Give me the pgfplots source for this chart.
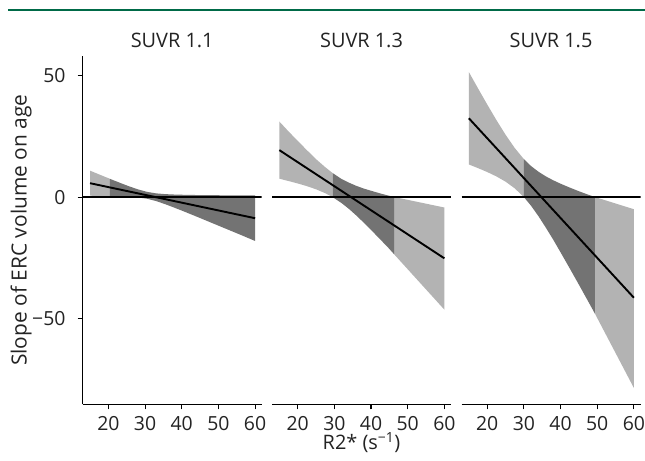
\documentclass[border=0pt]{standalone}
\usepackage{fontspec}
\setmainfont{Open Sans}
\usepackage{pgfplots}
\pgfplotsset{compat=1.18}
\definecolor{lightband}{RGB}{179,179,179}
\definecolor{darkband}{RGB}{115,115,115}
\definecolor{rulegreen}{RGB}{0,106,72}
\definecolor{ticktext}{RGB}{35,35,35}

\pgfplotsset{
  panel/.style={
    scale only axis, width=179bp, height=348.3bp, anchor=south west,
    xmin=13, xmax=61.8, ymin=-85.2, ymax=58,
    xtick={20,30,40,50,60}, xticklabels={20,30,40,50,60},
    axis x line*=bottom,
    axis line style={line width=1.1bp, black},
    every tick/.style={line width=1.1bp, black},
    tick align=outside, major tick length=5bp,
    ticklabel style={font=\fontsize{19.5}{22}\selectfont, text=ticktext, inner sep=0pt},
    xticklabel style={anchor=base, yshift=-21bp},
    title style={font=\fontsize{20}{22}\selectfont, text=ticktext, inner sep=0pt,
      at={(0.5,1)}, anchor=base, yshift=2.5bp},
    label style={font=\fontsize{20}{24}\selectfont, text=ticktext, inner sep=0pt},
  },
  band/.style={fill=#1, draw=none, forget plot},
  zero/.style={black, line width=1.2bp, forget plot},
  fit/.style={black, line width=1.9bp, forget plot},
}

\begin{document}
\begin{tikzpicture}
\path[use as bounding box] (0,0) rectangle (645bp,461bp);
\draw[rulegreen, line width=2bp] (8bp,451bp) -- (645bp,451bp);

% SUVR 1.1
\begin{axis}[panel, at={(82.7bp,56.7bp)},
  title={SUVR 1.1},
  axis y line*=left,
  ytick={-50,0,50}, yticklabels={−50,0,50},
  yticklabel style={anchor=east, xshift=-12bp},
  ylabel={Slope of ERC volume on age},
  ylabel style={at={(axis description cs:-0.313,0.5)}, rotate=0, anchor=base,
    font=\fontsize{21}{24}\selectfont},
]
\addplot[band=lightband] coordinates {
  (15,10.85) (17.5,9.3) (20.4,7.51)
  (20.4,0.43) (17.5,0.5) (15,0.55)} -- cycle;
\addplot[band=darkband] coordinates {
  (20.4,7.51) (23,5.95) (25.5,4.5) (28,3.19) (30.5,2.15) (33,1.52) (35.5,1.21)
  (38,1.04) (41,0.92) (44,0.84) (48,0.78) (52,0.72) (56,0.68) (60,0.65)
  (60,-18.05) (56,-15.5) (52,-13.0) (48,-10.5) (44,-8.0) (41,-6.16) (38,-4.36)
  (35.5,-2.93) (33,-1.64) (30.5,-0.67) (28,-0.11) (25.5,0.18) (23,0.33) (20.4,0.43)} -- cycle;
\addplot[zero] coordinates {(13,0) (61.8,0)};
\addplot[fit] coordinates {(15,5.7) (60,-8.7)};
\end{axis}

% SUVR 1.3
\begin{axis}[panel, at={(272bp,56.7bp)},
  title={SUVR 1.3},
  axis y line=none, ytick=\empty,
  xlabel={R2* (s\textsuperscript{−1})},
  xlabel style={at={(axis description cs:0.5,-0.1306)}, anchor=base},
]
\addplot[band=lightband] coordinates {
  (15,31.05) (17.5,27.0) (20,23.1) (22.5,19.3) (25,15.6) (27.5,12.3) (29.5,9.9)
  (29.5,0) (27.5,1.6) (25,3.2) (22.5,4.5) (20,5.6) (17.5,6.6) (15,7.55)} -- cycle;
\addplot[band=darkband] coordinates {
  (29.5,9.9) (32,7.4) (34,5.9) (36,4.6) (38,3.5) (40,2.6) (42.5,1.5) (44.5,0.7) (46.4,0)
  (46.4,-23.7) (44.5,-20.5) (42.5,-17.4) (40,-13.5) (38,-10.5) (36,-7.6) (34,-4.9)
  (32,-2.5) (29.5,0)} -- cycle;
\addplot[band=lightband] coordinates {
  (46.4,0) (60,-4.3) (60,-46.3) (46.4,-23.7)} -- cycle;
\addplot[zero] coordinates {(13,0) (61.8,0)};
\addplot[fit] coordinates {(15,19.3) (60,-25.2)};
\end{axis}

% SUVR 1.5
\begin{axis}[panel, at={(461.5bp,56.7bp)},
  title={SUVR 1.5},
  axis y line=none, ytick=\empty,
]
\addplot[band=lightband] coordinates {
  (15,51.4) (17.5,44.7) (20,38.1) (22.5,31.7) (25,25.65) (27.5,20.2) (30,15.6)
  (30,0) (27.5,3.6) (25,6.35) (22.5,8.5) (20,10.3) (17.5,11.9) (15,13.4)} -- cycle;
\addplot[band=darkband] coordinates {
  (30,15.6) (32,12.7) (34,10.4) (36,8.5) (38,6.9) (40,5.5) (42.5,3.9) (45,2.4)
  (47.5,1.0) (49.4,0)
  (49.4,-48.0) (47.5,-42.8) (45,-36.0) (42.5,-29.3) (40,-22.7) (38,-17.5) (36,-12.6)
  (34,-7.9) (32,-3.65) (30,0)} -- cycle;
\addplot[band=lightband] coordinates {
  (49.4,0) (60,-5.0) (60,-78.5) (49.4,-48.0)} -- cycle;
\addplot[zero] coordinates {(13,0) (61.8,0)};
\addplot[fit] coordinates {(15,32.4) (60,-41.4)};
\end{axis}
\end{tikzpicture}
\end{document}
